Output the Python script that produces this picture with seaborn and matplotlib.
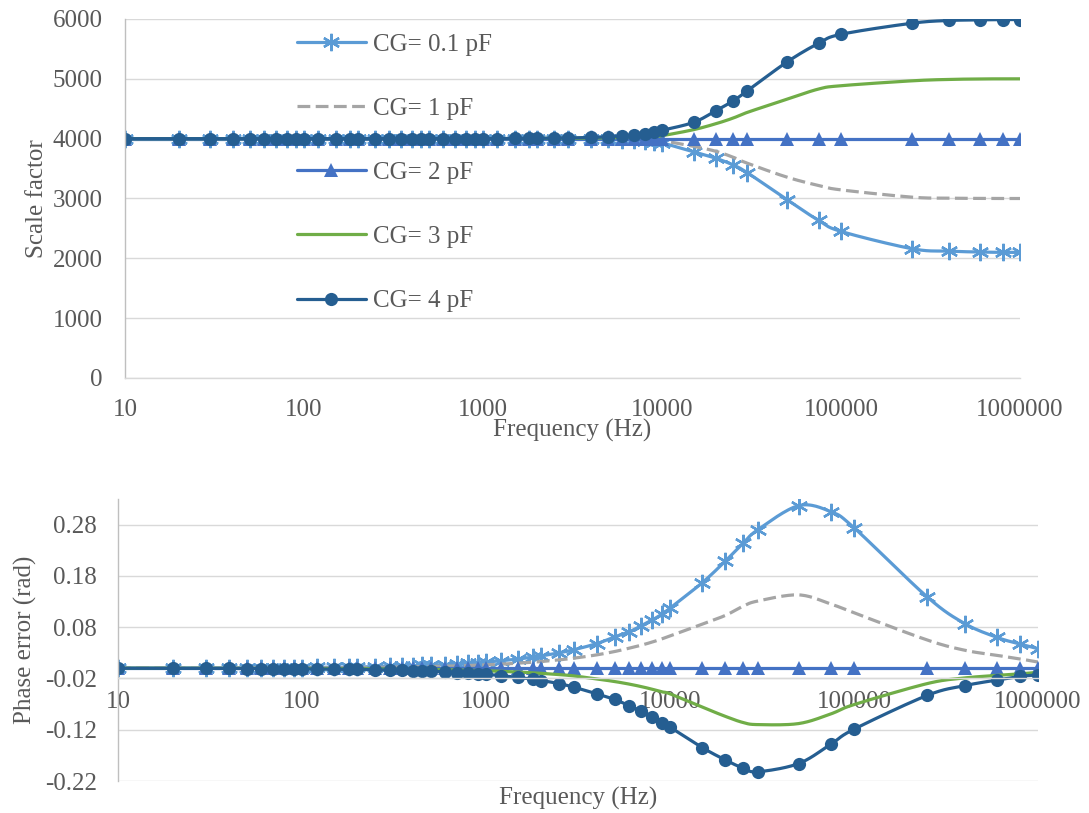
import numpy as np
import pandas as pd
import matplotlib
matplotlib.use("Agg")
import matplotlib.pyplot as plt
from matplotlib.lines import Line2D
import seaborn as sns

# ---------------- data ----------------
freqs = [10, 20, 30, 40, 50, 60, 70, 80, 90, 100,
         120, 150, 180, 200, 250, 300, 350, 400, 450, 500,
         600, 700, 800, 900, 1000, 1200, 1500, 1800, 2000, 2500,
         3000, 4000, 5000, 6000, 7000, 8000, 9000, 10000, 15000, 20000,
         25000, 30000, 50000, 75000, 100000, 250000, 400000, 600000, 800000, 1000000]

series_labels = ["CG= 0.1 pF", "CG= 1 pF", "CG= 2 pF", "CG= 3 pF", "CG= 4 pF"]

scale_01 = [4000] * 25 + [4000, 3999, 3999, 3998, 3997,
                          3996, 3992, 3987, 3980, 3970, 3958, 3945, 3930, 3780, 3672,
                          3560, 3430, 2980, 2633, 2450, 2160, 2120, 2105, 2100, 2100]
scale_1 = [4000] * 25 + [4000, 4000, 4000, 4000, 3999,
                         3998, 3997, 3995, 3992, 3989, 3985, 3980, 3967, 3872, 3789,
                         3689, 3589, 3356, 3217, 3144, 3022, 3006, 3001, 3000, 3000]
scale_2 = [4000] * 50
scale_3 = [4000] * 25 + [4001, 4001, 4002, 4003, 4004,
                         4006, 4010, 4015, 4021, 4028, 4036, 4044, 4050, 4150, 4250,
                         4345, 4440, 4660, 4830, 4885, 4967, 4990, 4998, 5000, 5000]
scale_4 = [4000] * 24 + [4001, 4002, 4003, 4004, 4005, 4008,
                         4012, 4020, 4032, 4048, 4062, 4085, 4112, 4140, 4272, 4467,
                         4633, 4800, 5283, 5594, 5744, 5930, 5975, 5985, 5990, 5990]

phase_01 = [0.0001, 0.0002, 0.0004, 0.0005, 0.0006, 0.0007, 0.0008, 0.0010, 0.0011, 0.0012,
            0.0014, 0.0018, 0.0022, 0.0024, 0.0030, 0.0036, 0.0042, 0.0048, 0.0054, 0.0060,
            0.0072, 0.0084, 0.0096, 0.0108, 0.0120, 0.0144, 0.0180, 0.0216, 0.0240, 0.0300,
            0.0360, 0.0480, 0.0610, 0.0710, 0.0830, 0.0940, 0.1050, 0.1170, 0.1670, 0.2090,
            0.2440, 0.2700, 0.3170, 0.3050, 0.2740, 0.1390, 0.0870, 0.0600, 0.0470, 0.0380]
phase_1 = [0.0001, 0.0001, 0.0002, 0.0003, 0.0003, 0.0004, 0.0005, 0.0005, 0.0006, 0.0007,
           0.0008, 0.0010, 0.0012, 0.0013, 0.0016, 0.0020, 0.0023, 0.0026, 0.0029, 0.0033,
           0.0039, 0.0046, 0.0052, 0.0059, 0.0065, 0.0078, 0.0098, 0.0117, 0.0130, 0.0163,
           0.0195, 0.0260, 0.0325, 0.0390, 0.0450, 0.0510, 0.0570, 0.0630, 0.0860, 0.1030,
           0.1210, 0.1310, 0.1430, 0.1250, 0.1080, 0.0550, 0.0350, 0.0250, 0.0180, 0.0120]
phase_2 = [0.0] * 50
phase_3 = [0.0, -0.0001, -0.0002, -0.0002, -0.0003, -0.0003, -0.0004, -0.0004, -0.0005, -0.0005,
           -0.0006, -0.0008, -0.0009, -0.0010, -0.0013, -0.0015, -0.0018, -0.0020, -0.0023, -0.0025,
           -0.0030, -0.0035, -0.0040, -0.0045, -0.0050, -0.0060, -0.0075, -0.0090, -0.0100, -0.0125,
           -0.0150, -0.0210, -0.0260, -0.0310, -0.0360, -0.0410, -0.0460, -0.0500, -0.0760, -0.0940,
           -0.1060, -0.1100, -0.1080, -0.0890, -0.0710, -0.0300, -0.0190, -0.0140, -0.0110, -0.0080]
phase_4 = [-0.0001, -0.0002, -0.0004, -0.0005, -0.0006, -0.0007, -0.0008, -0.0010, -0.0011, -0.0012,
           -0.0014, -0.0018, -0.0022, -0.0024, -0.0030, -0.0036, -0.0042, -0.0048, -0.0054, -0.0060,
           -0.0072, -0.0084, -0.0096, -0.0108, -0.0120, -0.0144, -0.0180, -0.0216, -0.0240, -0.0300,
           -0.0370, -0.0500, -0.0610, -0.0730, -0.0840, -0.0960, -0.1060, -0.1150, -0.1550, -0.1790,
           -0.1950, -0.2020, -0.1860, -0.1480, -0.1190, -0.0530, -0.0340, -0.0230, -0.0160, -0.0130]

x_ticks = [10, 100, 1000, 10000, 100000, 1000000]
x_tick_labels = ["10", "100", "1000", "10000", "100000", "1000000"]
top_yticks = [0, 1000, 2000, 3000, 4000, 5000, 6000]
bot_yticks = [-0.22, -0.12, -0.02, 0.08, 0.18, 0.28]
bot_ytick_labels = ["-0.22", "-0.12", "-0.02", "0.08", "0.18", "0.28"]

# ---------------- style ----------------
sns.set_style("white")
plt.rcParams["font.family"] = ["Liberation Serif", "DejaVu Serif"]
TXT = "#595959"
GRID = "#D9D9D9"
FS = 18

styles = [
    dict(color="#5B9BD5", ls="-", marker=(6, 2, 0), ms=12.5, mew=1.7, mfc="#5B9BD5"),
    dict(color="#A5A5A5", ls=(0, (4.0, 1.7)), marker=None, ms=0, mew=0, mfc="none"),
    dict(color="#4472C4", ls="-", marker="^", ms=9.5, mew=0, mfc="#4472C4"),
    dict(color="#70AD47", ls="-", marker=None, ms=0, mew=0, mfc="none"),
    dict(color="#255E91", ls="-", marker="o", ms=9.5, mew=0, mfc="#255E91"),
]
LW = 2.3


def smooth(xs, ys, n=16):
    """Catmull-Rom smoothing in (log10 x, y) space, for the drawn line only."""
    lx = np.log10(np.asarray(xs, float))
    y = np.asarray(ys, float)
    P = np.column_stack([lx, y])
    P = np.vstack([P[0], P, P[-1]])
    out = []
    for i in range(1, len(P) - 2):
        p0, p1, p2, p3 = P[i - 1], P[i], P[i + 1], P[i + 2]
        t = np.linspace(0, 1, n, endpoint=False)[:, None]
        pts = 0.5 * ((2 * p1) + (-p0 + p2) * t + (2 * p0 - 5 * p1 + 4 * p2 - p3) * t ** 2
                     + (-p0 + 3 * p1 - 3 * p2 + p3) * t ** 3)
        out.append(pts)
    out.append(P[-2][None, :])
    out = np.vstack(out)
    return 10 ** out[:, 0], out[:, 1]


fig = plt.figure(figsize=(10.89, 8.13), dpi=100)
ax1 = fig.add_axes([125 / 1089, 1 - 378 / 813, (1020 - 125) / 1089, (378 - 19) / 813])
ax2 = fig.add_axes([118 / 1089, 1 - 781 / 813, (1038 - 118) / 1089, (781 - 499) / 813])


def draw(ax, data):
    for vals, st in zip(data, styles):
        sx, sy = smooth(freqs, vals)
        df = pd.DataFrame({"f": sx, "v": sy})
        sns.lineplot(data=df, x="f", y="v", ax=ax, color=st["color"], lw=LW,
                     linestyle=st["ls"], estimator=None, sort=False, legend=False)
        if st["marker"] is not None:
            ax.plot(freqs, vals, ls="none", marker=st["marker"], ms=st["ms"],
                    mfc=st["mfc"], mec=st["color"], mew=st["mew"])


draw(ax1, [scale_01, scale_1, scale_2, scale_3, scale_4])
draw(ax2, [phase_01, phase_1, phase_2, phase_3, phase_4])

for ax in (ax1, ax2):
    ax.set_xscale("log")
    ax.set_xlim(10, 1000000)
    ax.set_xticks(x_ticks)
    ax.set_xticklabels(x_tick_labels)
    ax.xaxis.set_minor_locator(matplotlib.ticker.NullLocator())
    ax.tick_params(axis="both", length=0, labelsize=FS, labelcolor=TXT)
    ax.grid(False)
    for s in ("top", "right"):
        ax.spines[s].set_visible(False)
    ax.spines["left"].set_color("#BFBFBF")
    ax.spines["left"].set_linewidth(1.0)
    ax.spines["bottom"].set_color(GRID)
    ax.spines["bottom"].set_linewidth(1.0)
    ax.set_facecolor("white")

# top axis
ax1.set_ylim(0, 6000)
ax1.set_yticks(top_yticks)
ax1.set_yticklabels([str(v) for v in top_yticks])
for v in top_yticks:
    ax1.axhline(v, color=GRID, lw=1.0, zorder=0)
ax1.tick_params(axis="x", pad=15)
ax1.tick_params(axis="y", pad=16)
ax1.set_xlabel("Frequency (Hz)", fontsize=FS, color=TXT)
ax1.set_ylabel("Scale factor", fontsize=FS, color=TXT)
ax1.xaxis.set_label_coords(0.5, -0.115)
ax1.yaxis.set_label_coords(-0.086, 0.5)

# bottom axis
ax2.set_ylim(-0.22, 0.33)
ax2.set_yticks(bot_yticks)
ax2.set_yticklabels(bot_ytick_labels)
for v in bot_yticks:
    ax2.axhline(v, color=GRID, lw=1.0, zorder=0)
ax2.spines["bottom"].set_position(("data", -0.02))
ax2.tick_params(axis="x", pad=9)
ax2.tick_params(axis="y", pad=15)
ax2.set_xlabel("Frequency (Hz)", fontsize=FS, color=TXT)
ax2.set_ylabel("Phase error (rad)", fontsize=FS, color=TXT)
ax2.xaxis.set_label_coords(0.5, -0.02)
ax2.yaxis.set_label_coords(-0.088, 0.5)

# legend
handles = []
for lab, st in zip(series_labels, styles):
    handles.append(Line2D([0], [0], color=st["color"], lw=LW, linestyle=st["ls"],
                          marker=st["marker"] if st["marker"] is not None else None,
                          ms=st["ms"], mfc=st["mfc"], mec=st["color"], mew=st["mew"]))
leg = ax1.legend(handles, series_labels, loc="upper left",
                 bbox_to_anchor=(297 / 1089, 1 - 33 / 813), bbox_transform=fig.transFigure,
                 frameon=False, fontsize=FS, labelspacing=1.67, handlelength=2.75,
                 handletextpad=0.3, borderpad=0, borderaxespad=0, labelcolor=TXT)

fig.savefig("out.png", dpi=100)
